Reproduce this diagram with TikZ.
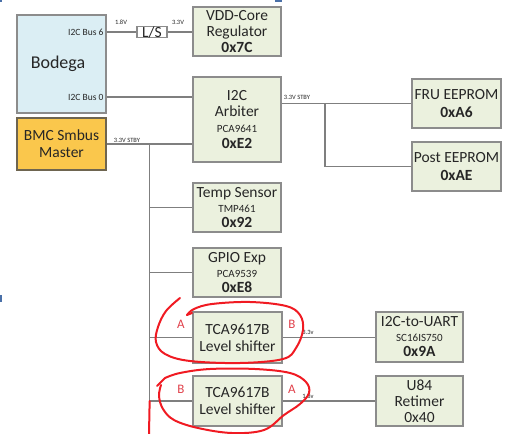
\documentclass[tikz,border=0pt]{standalone}
\usepackage{fontspec}
\setmainfont{Carlito}
\usetikzlibrary{calc}
\definecolor{boxfill}{HTML}{EBF1DE}
\definecolor{boxline}{HTML}{8C8C8C}
\definecolor{bodfill}{HTML}{DBEEF4}
\definecolor{bmcfill}{HTML}{FAC74C}
\definecolor{bmcline}{HTML}{6E6550}
\definecolor{wire}{HTML}{7F7F7F}
\definecolor{txt}{HTML}{262626}
\definecolor{markred}{HTML}{F01A22}
\definecolor{marktxt}{HTML}{E0404A}
\definecolor{artblue}{HTML}{4A70A8}
\begin{document}
\begin{tikzpicture}[x=1pt,y=-1pt,
  box/.style={draw=boxline, fill=boxfill, line width=1.3pt, align=center, inner sep=0pt, text=txt,
    font=\fontsize{15.5}{17}\selectfont},
  unit/.style={box, minimum width=88pt, minimum height=49pt},
  wirel/.style={draw=wire, line width=1.2pt},
  tiny/.style={font=\fontsize{6.5}{7}\selectfont, text=txt, inner sep=0pt},
  buslbl/.style={font=\fontsize{9.5}{11}\selectfont, text=txt, inner sep=0pt, anchor=east},
  side/.style={font=\fontsize{13}{14}\selectfont, text=marktxt, inner sep=0pt},
  redmark/.style={draw=markred, line width=2pt, line cap=round, line join=round}
]
\useasboundingbox (0,0) rectangle (515,434);
% screenshot artifacts
\fill[artblue] (0,0) rectangle (2,2);
\fill[artblue] (0,295) rectangle (2,302);
\fill[artblue] (275,0) rectangle (282,1.5);

% left blocks
\node[box, fill=bodfill, minimum width=89pt, minimum height=98pt] (bodega) at (61.5,64) {};
\node[font=\fontsize{18}{19}\selectfont, text=txt, inner sep=0pt] (bodegat) at (58,64) {Bodega};
\node[box, fill=bmcfill, draw=bmcline, minimum width=89pt, minimum height=52pt] (bmc) at (61.5,144) {BMC Smbus\\Master};

% level shifter box
\node[box, fill=white, minimum width=30pt, minimum height=11pt] (ls) at (152,32) {L/S};

% column of devices
\node[unit] (vdd) at (237,31.5) {VDD-Core\\[-1pt]Regulator\\[-1pt]\textbf{0x7C}};
\node[unit, minimum height=85pt] (arb) at (237,119.5) {I2C\\[-1pt]Arbiter\\[-1pt]{\fontsize{11}{13}\selectfont PCA9641}\\[-1pt]\textbf{0xE2}};
\node[unit] (temp) at (237,207.5) {Temp Sensor\\[-2pt]{\fontsize{11}{13}\selectfont TMP461}\\[-2pt]\textbf{0x92}};
\node[unit] (gpio) at (237,272.5) {GPIO Exp\\[-2pt]{\fontsize{11}{13}\selectfont PCA9539}\\[-2pt]\textbf{0xE8}};
\node[unit, minimum width=89pt, minimum height=51pt] (lsa) at (237.5,337.5) {TCA9617B\\Level shifter};
\node[unit, minimum width=89pt, minimum height=50pt] (lsb) at (237.5,401) {TCA9617B\\Level shifter};

% right devices
\node[unit, minimum width=89pt] (fru) at (456.5,103.5) {FRU EEPROM\\[1pt]\textbf{0xA6}};
\node[unit, minimum width=89pt] (post) at (456.5,166.5) {Post EEPROM\\[1pt]\textbf{0xAE}};
\node[unit, minimum width=87pt, minimum height=50pt] (uart) at (419.5,337) {I2C-to-UART\\[-2pt]{\fontsize{11}{13}\selectfont SC16IS750}\\[-2pt]\textbf{0x9A}};
\node[unit, minimum width=87pt, minimum height=50pt] (u84) at (419.5,401) {U84\\[-1pt]Retimer\\[-1pt]0x40};

% bus labels
\coordinate (bus0) at ($(bodega.east)+(0,33)$);
\node[buslbl] (b6lbl) at ($(bodega.east |- ls.west)+(-3,0)$) {I2C Bus 6};
\node[buslbl] (b0lbl) at ($(bus0)+(-3,0)$) {I2C Bus 0};

% wires
\draw[wirel] (bodega.east |- ls.west) -- (ls.west);
\draw[wirel] (ls.east) -- (vdd.west |- ls.east);
\draw[wirel] (bus0) -- (arb.west |- bus0);
\draw[wirel] (bmc.east) -- (arb.west |- bmc.east);
\coordinate (trunk) at ($(bmc.east)+(43,0)$);
\coordinate (trunkend) at (trunk |- lsb.west);
\coordinate (bottom) at (149,434);
\draw[wirel] (trunk) -- (trunkend);
\draw[wirel] (trunk |- temp.west) -- (temp.west);
\draw[wirel] (trunk |- gpio.west) -- (gpio.west);
\draw[wirel] (trunk |- lsa.west) -- (lsa.west);
\draw[wirel] (trunkend) -- (lsb.west);
\draw[wirel] (arb.east |- fru.west) -- (fru.west);
\coordinate (split) at (325,103.5);
\draw[wirel] (split) |- (post.west);
\draw[wirel] (lsa.east) -- (uart.west |- lsa.east);
\draw[wirel] (lsb.east) -- (u84.west |- lsb.east);

% voltage labels
\node[tiny] (v18) at (121,22) {1.8V};
\node[tiny] (v33) at (178,22) {3.3V};
\node[tiny] (stby1) at (127,140) {3.3V STBY};
\node[tiny] (stby2) at (297,97) {3.3V STBY};
\node[tiny] (v33b) at (308,332) {3.3v};
\node[tiny] (v18b) at (308,396) {1.8v};

% A / B side labels
\node[side] (a1) at (181,324) {A};
\node[side] (b1) at (292,324) {B};
\node[side] (b2) at (181,389) {B};
\node[side] (a2) at (292,389) {A};

% red annotations
\draw[redmark] (trunkend) -- (bottom);
\draw[redmark] plot[smooth, tension=0.6] coordinates {(180,298) (166,311) (158,327) (156,342) (165,354) (190,361) (240,363) (283,359) (296,348) (303,330) (300,315) (286,306) (250,302) (212,304) (194,309) (187,315)};
\draw[redmark] (187,315) -- (192,313);
\draw[redmark] (157,386) -- (165,378);
\draw[redmark] plot[smooth, tension=0.6] coordinates {(165,378) (180,373) (210,369) (255,369) (290,373) (306,382) (309,393) (300,404) (284,415) (264,430) (232,433) (198,428) (174,420) (163,409) (159,396) (161,385)};
\end{tikzpicture}
\end{document}
